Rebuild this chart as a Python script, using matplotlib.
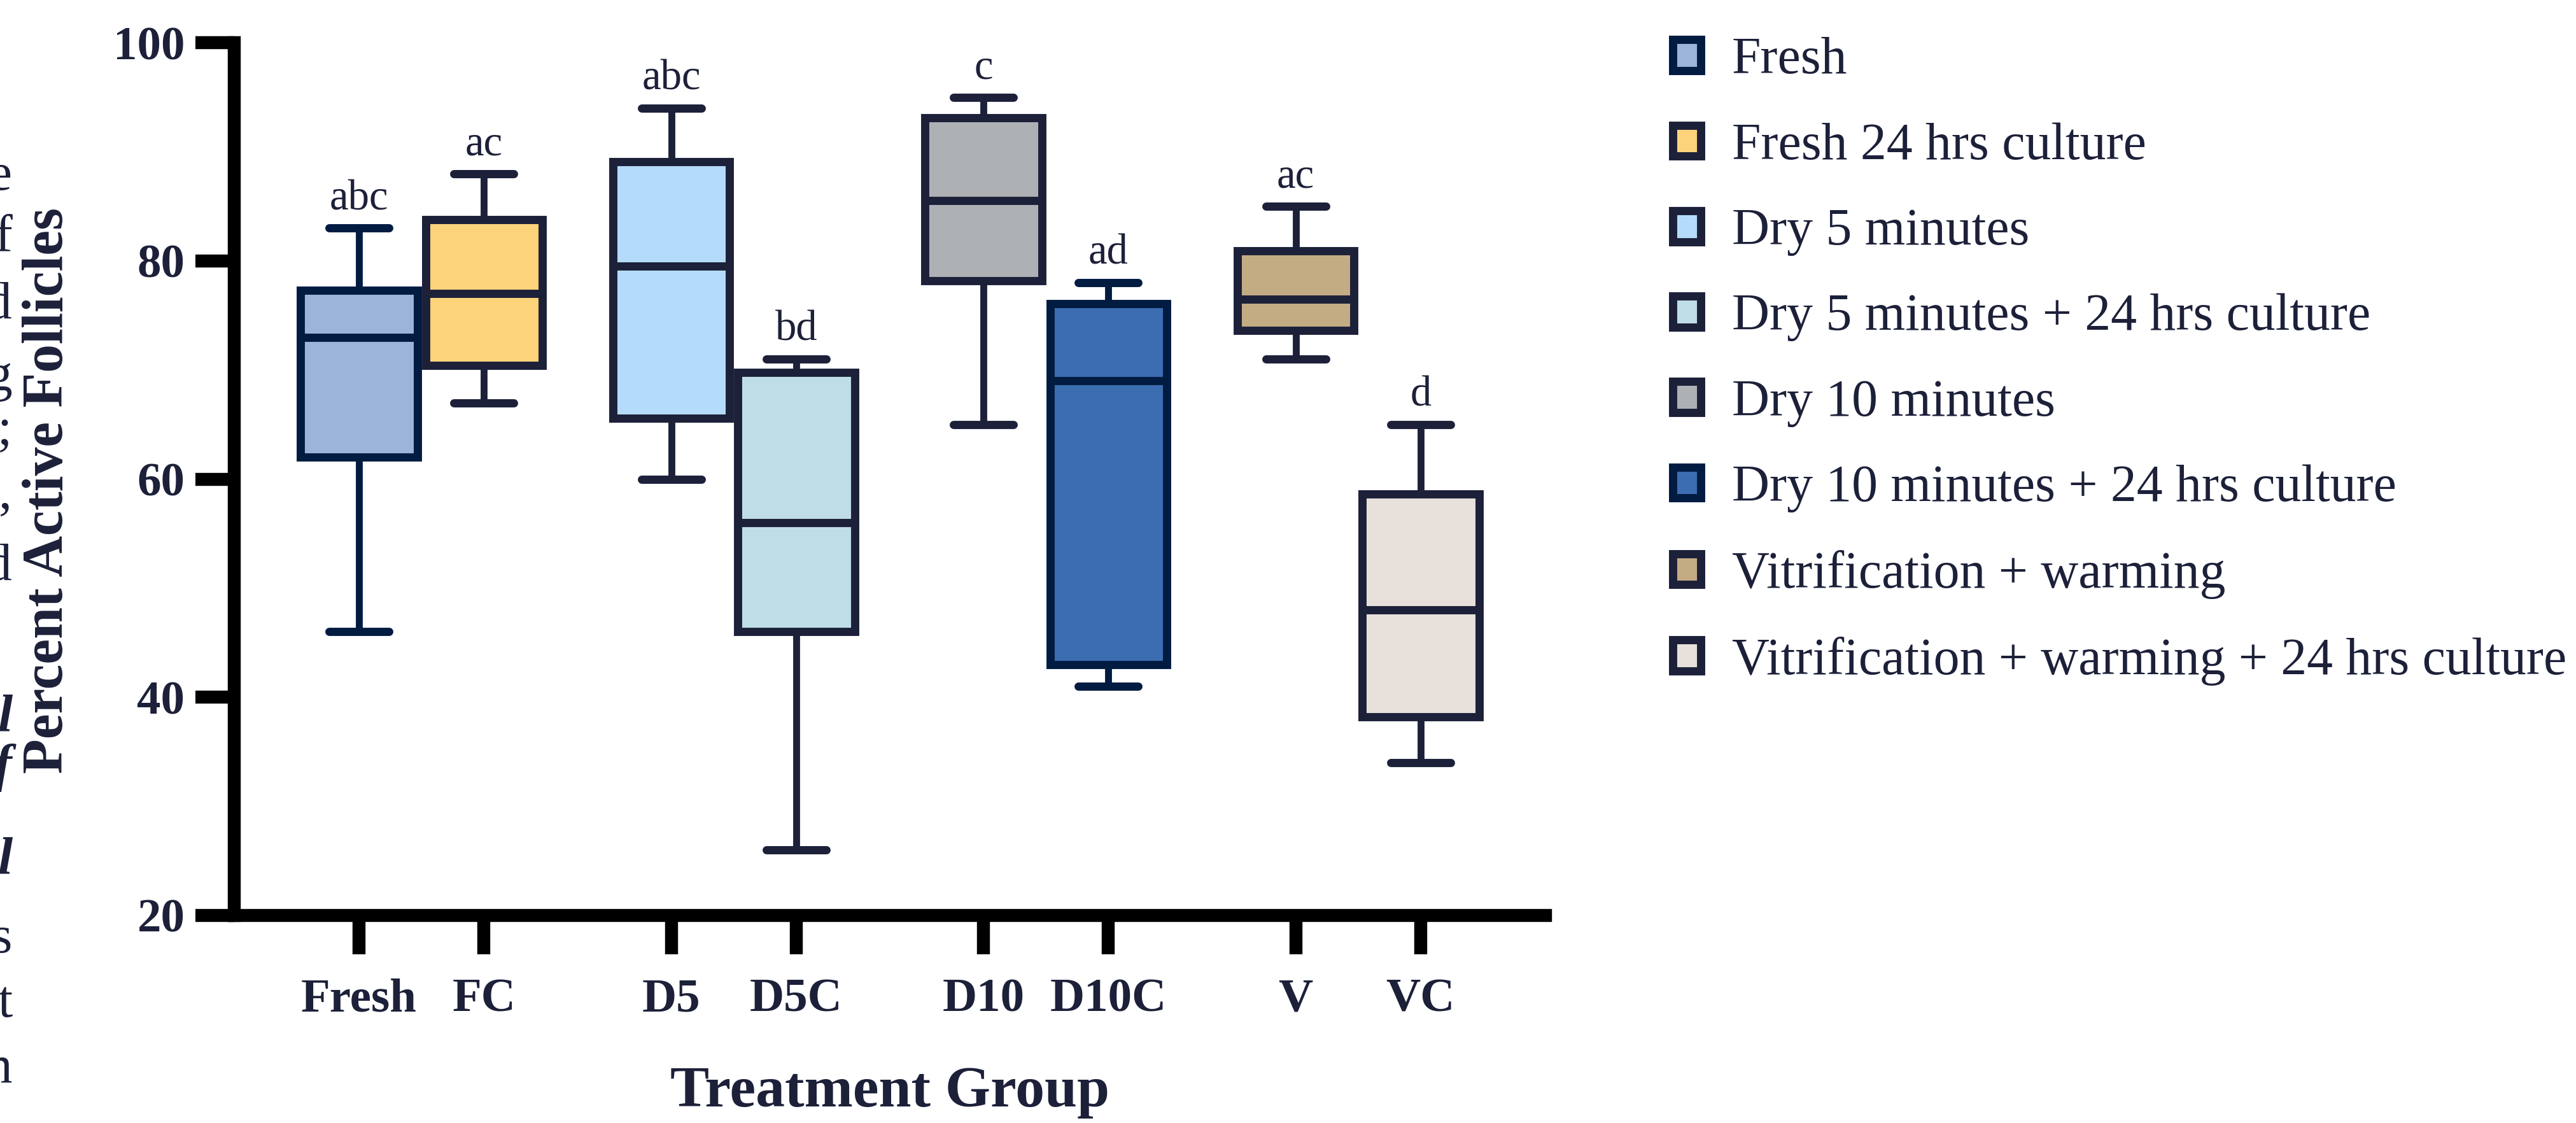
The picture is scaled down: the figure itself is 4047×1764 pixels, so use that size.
import matplotlib.pyplot as plt
from matplotlib.patches import Patch

# Times-like serif throughout
plt.rcParams['font.family'] = ['Liberation Serif', 'DejaVu Serif']

# ---- data ----
groups = ['Fresh', 'FC', 'D5', 'D5C', 'D10', 'D10C', 'V', 'VC']
legend_names = ['Fresh', 'Fresh 24 hrs culture', 'Dry 5 minutes',
                'Dry 5 minutes + 24 hrs culture', 'Dry 10 minutes',
                'Dry 10 minutes + 24 hrs culture', 'Vitrification + warming',
                'Vitrification + warming + 24 hrs culture']
whisker_low = [46, 67, 60, 26, 65, 41, 71, 34]
q1 = [62, 70.4, 65.6, 46, 78.2, 43, 73.6, 38.2]
median = [73, 77, 79.5, 56, 85.5, 69, 76.5, 48]
q3 = [77.3, 83.8, 89.1, 69.8, 93.1, 76.1, 80.9, 58.6]
whisker_high = [83, 88, 94, 71, 95, 78, 85, 65]
letters = ['abc', 'ac', 'abc', 'bd', 'c', 'ad', 'ac', 'd']

fills = ['#9DB4D9', '#FCD37B', '#B4DBFA', '#BFDDE6',
         '#AEB1B4', '#3C6DB0', '#C3AB83', '#E8E1DB']
edges = ['#021B41', '#1C2039', '#1C2039', '#1C2039',
         '#1C2039', '#021B41', '#1C2039', '#1C2039']
navy = '#1C2039'

# stray letters from neighbouring page text (cropped at left edge)
stray_chars = ['e', 'f', 'd', 'g', ';', ',', 'd', 'l', 'f', 'l', 's', 't', 'n']
stray_baseline_px = [298, 394, 500, 613, 697, 799, 911, 1147, 1226, 1372, 1496, 1597, 1699]
stray_bold = [False] * 7 + [True] * 3 + [False] * 3

W, H, DPI = 4047, 1764, 300
fig = plt.figure(figsize=(W / DPI, H / DPI), dpi=DPI)
ax = fig.add_axes([368 / W, 1 - 1438 / H, (2428 - 368) / W, (1438 - 67) / H])

# pairs of boxes, with a gap between treatment groups
positions = [g * 2.5 + k for g in range(4) for k in (0, 1)]

stats = [dict(med=m, q1=a, q3=b, whislo=lo, whishi=hi, fliers=[])
         for m, a, b, lo, hi in zip(median, q1, q3, whisker_low, whisker_high)]

bp = ax.bxp(stats, positions=positions, widths=0.935, capwidths=0.48,
            patch_artist=True, showfliers=False,
            boxprops=dict(linewidth=3.1),
            medianprops=dict(linewidth=3.1),
            whiskerprops=dict(linewidth=2.6),
            capprops=dict(linewidth=3.1, solid_capstyle='round'))

for i, patch in enumerate(bp['boxes']):
    patch.set_facecolor(fills[i])
    patch.set_edgecolor(edges[i])
    patch.set_joinstyle('miter')
    patch.set_zorder(3)
for i in range(len(groups)):
    bp['medians'][i].set_color(edges[i])
    bp['medians'][i].set_solid_capstyle('butt')
    bp['medians'][i].set_zorder(4)
    for ln in bp['whiskers'][2 * i:2 * i + 2]:
        ln.set_color(edges[i])
    for ln in bp['caps'][2 * i:2 * i + 2]:
        ln.set_color(edges[i])

# significance letters above the whiskers
for x, hi, lab in zip(positions, whisker_high, letters):
    ax.annotate(lab, (x, hi), xytext=(0, 7), textcoords='offset points',
                ha='center', va='baseline', fontsize=16, color=navy)

ax.set_xlim(-1, 9.5)
ax.set_ylim(20, 100)
ax.set_yticks([20, 40, 60, 80, 100])
ax.set_xticks(positions)
ax.set_xticklabels(groups)

for s in ['top', 'right']:
    ax.spines[s].set_visible(False)
for s in ['left', 'bottom']:
    ax.spines[s].set_linewidth(4.9)
    ax.spines[s].set_color('black')

ax.tick_params(axis='both', length=14.6, width=4.9, color='black',
               labelcolor=navy)
ax.tick_params(axis='y', pad=4, labelsize=18)
ax.tick_params(axis='x', pad=9, labelsize=18)
for t in ax.get_xticklabels() + ax.get_yticklabels():
    t.set_fontweight('bold')

ax.set_ylabel('Percent Active Follicles', fontsize=21.5, fontweight='bold', color=navy)
ax.yaxis.set_label_coords(-0.122, 0.487)
ax.set_xlabel('Treatment Group', fontsize=22, fontweight='bold', color=navy)
ax.xaxis.set_label_coords(0.5, -0.173)

handles = [Patch(facecolor=f, edgecolor=e, linewidth=3.1) for f, e in zip(fills, edges)]
fig.legend(handles, legend_names, loc='upper left',
           bbox_to_anchor=(2628 / W, 1 - 58 / H), frameon=False,
           fontsize=19.6, handlelength=0.54, handleheight=0.54,
           handletextpad=0.6, labelspacing=0.72, borderpad=0,
           borderaxespad=0, labelcolor=navy)

for ch, yb, bold in zip(stray_chars, stray_baseline_px, stray_bold):
    fig.text(19 / W, 1 - yb / H, ch, ha='right', va='baseline', fontsize=20,
             color=navy, fontweight='bold' if bold else 'normal',
             fontstyle='italic' if bold else 'normal')

fig.savefig('out.png', dpi=DPI)
